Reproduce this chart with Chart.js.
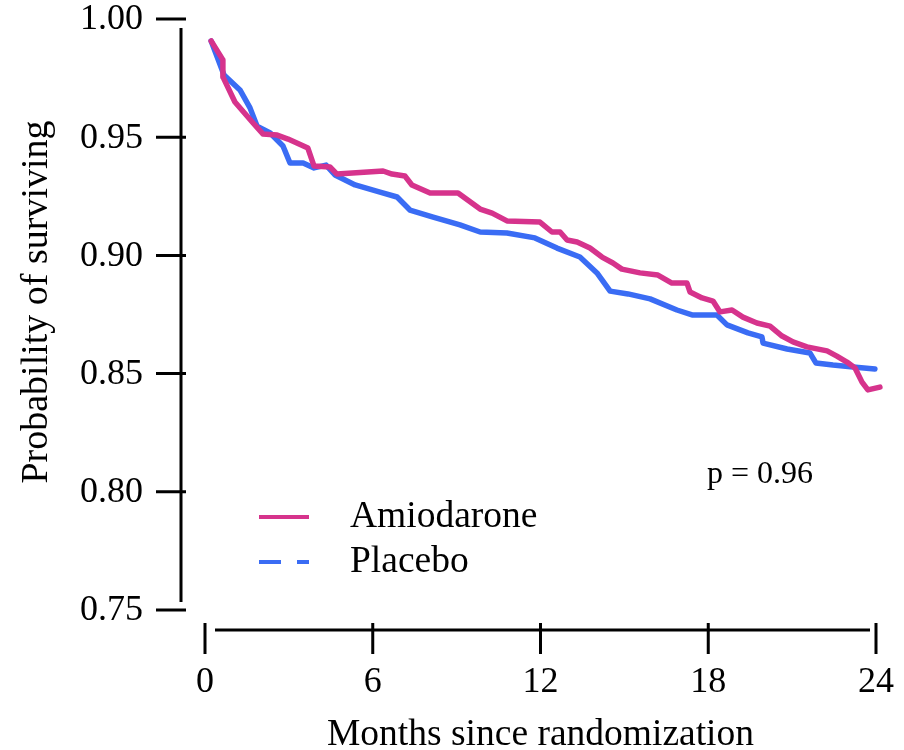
<!DOCTYPE html>
<html>
<head>
<meta charset="utf-8">
<script src="https://cdn.jsdelivr.net/npm/chart.js@4"></script>
<style>
  html, body { margin: 0; padding: 0; background: #fff; }
  #wrap { width: 904px; height: 750px; }
</style>
</head>
<body>
<div id="wrap"><canvas id="survChart" width="904" height="750"></canvas></div>
<script>
// Kaplan-Meier curves (months, probability)
const amioMonths = [0.22, 0.64, 0.64, 1.07, 1.72, 2.07, 2.58, 2.97, 3.68, 3.90, 4.47, 4.72, 6.37, 6.69, 7.15, 7.40, 8.05, 9.05, 9.84, 10.27, 10.80, 11.98, 12.41, 12.70, 12.95, 13.31, 13.77, 14.20, 14.59, 14.91, 15.56, 16.20, 16.70, 17.24, 17.35, 17.78, 18.17, 18.42, 18.85, 19.24, 19.74, 20.21, 20.64, 21.03, 21.53, 22.25, 22.60, 22.96, 23.25, 23.50, 23.71, 24.14];
const amioSurv = [0.9907, 0.9827, 0.9755, 0.9649, 0.9560, 0.9514, 0.9509, 0.9492, 0.9454, 0.9378, 0.9374, 0.9344, 0.9357, 0.9344, 0.9336, 0.9298, 0.9264, 0.9264, 0.9196, 0.9179, 0.9146, 0.9141, 0.9099, 0.9099, 0.9065, 0.9057, 0.9031, 0.8993, 0.8968, 0.8942, 0.8926, 0.8917, 0.8883, 0.8883, 0.8845, 0.8820, 0.8807, 0.8761, 0.8769, 0.8739, 0.8714, 0.8701, 0.8659, 0.8634, 0.8613, 0.8596, 0.8574, 0.8549, 0.8524, 0.8464, 0.8431, 0.8443];

const placMonths = [0.22, 0.68, 1.25, 1.61, 1.86, 2.33, 2.79, 3.04, 3.51, 3.90, 4.33, 4.65, 5.37, 6.26, 6.87, 7.33, 8.16, 9.12, 9.84, 10.80, 11.80, 12.59, 13.41, 14.02, 14.49, 15.13, 15.92, 16.88, 17.42, 18.31, 18.67, 19.42, 19.92, 19.96, 20.82, 21.64, 21.85, 22.46, 23.18, 23.96];
const placSurv = [0.9907, 0.9763, 0.9700, 0.9624, 0.9547, 0.9518, 0.9463, 0.9391, 0.9391, 0.9370, 0.9382, 0.9340, 0.9298, 0.9268, 0.9247, 0.9192, 0.9162, 0.9129, 0.9099, 0.9095, 0.9074, 0.9031, 0.8993, 0.8926, 0.8849, 0.8837, 0.8816, 0.8769, 0.8748, 0.8748, 0.8706, 0.8672, 0.8655, 0.8629, 0.8604, 0.8587, 0.8545, 0.8536, 0.8528, 0.8519];

const xTicks = [0, 6, 12, 18, 24];
const yTicks = [0.75, 0.80, 0.85, 0.90, 0.95, 1.00];

const FONT = "'Liberation Serif', 'Times New Roman', serif";
const PINK = '#d6338c';
const BLUE = '#3a6cf4';

function toPoints(xs, ys) {
  return xs.map((m, i) => ({ x: m, y: ys[i] }));
}

// the offset axis lines, ticks, labels, titles, legend and p value are drawn here,
// positioned through the chart's own x / y scales
const decorPlugin = {
  id: 'decor',
  afterDraw(chart) {
    const { ctx, chartArea: a, scales } = chart;
    const sx = scales.x, sy = scales.y;
    ctx.save();
    ctx.strokeStyle = '#000';
    ctx.lineWidth = 3;
    ctx.lineCap = 'butt';

    // y axis
    const ax = a.left - 24;
    ctx.beginPath();
    ctx.moveTo(ax, a.top + 9);
    ctx.lineTo(ax, a.bottom - 8);
    yTicks.forEach(v => {
      const py = sy.getPixelForValue(v);
      ctx.moveTo(ax - 25, py);
      ctx.lineTo(ax + 5, py);
    });
    // x axis
    const ay = a.bottom + 20;
    ctx.moveTo(a.left + 10, ay);
    ctx.lineTo(a.right - 6, ay);
    xTicks.forEach(v => {
      const px = sx.getPixelForValue(v);
      ctx.moveTo(px, ay - 7);
      ctx.lineTo(px, ay + 24);
    });
    ctx.stroke();

    ctx.fillStyle = '#000';
    ctx.font = '36px ' + FONT;

    // tick labels
    ctx.textAlign = 'right';
    ctx.textBaseline = 'middle';
    yTicks.forEach(v => ctx.fillText(v.toFixed(2), 143, sy.getPixelForValue(v) + 1));
    ctx.textAlign = 'center';
    ctx.textBaseline = 'alphabetic';
    xTicks.forEach(v => ctx.fillText(String(v), sx.getPixelForValue(v), 692));

    // axis titles
    ctx.font = '37.5px ' + FONT;
    ctx.fillText('Months since randomization', (a.left + a.right) / 2, 745);
    ctx.save();
    ctx.font = '38px ' + FONT;
    ctx.translate(47, 302);
    ctx.rotate(-Math.PI / 2);
    ctx.fillText('Probability of surviving', 0, 0);
    ctx.restore();

    // legend
    ctx.font = '37.5px ' + FONT;
    ctx.textAlign = 'left';
    const rows = [527, 572];
    chart.data.datasets.forEach((ds, i) => {
      const base = rows[i];
      const ly = base - 10;
      ctx.strokeStyle = ds.borderColor;
      ctx.lineWidth = 4;
      ctx.setLineDash(ds.legendDash || []);
      ctx.beginPath();
      ctx.moveTo(259, ly);
      ctx.lineTo(309, ly);
      ctx.stroke();
      ctx.setLineDash([]);
      ctx.fillText(ds.label, 350, base);
    });

    ctx.font = '32px ' + FONT;
    ctx.fillText('p = 0.96', 707, 483);
    ctx.restore();
  }
};

const ctx = document.getElementById('survChart').getContext('2d');
new Chart(ctx, {
  type: 'line',
  data: {
    datasets: [
      {
        label: 'Amiodarone',
        data: toPoints(amioMonths, amioSurv),
        borderColor: PINK,
        legendDash: [],
        borderWidth: 5.5,
        pointRadius: 0,
        tension: 0,
        fill: false,
        clip: false,
        borderCapStyle: 'round',
        borderJoinStyle: 'round'
      },
      {
        label: 'Placebo',
        data: toPoints(placMonths, placSurv),
        borderColor: BLUE,
        legendDash: [22, 16],
        borderWidth: 5.5,
        pointRadius: 0,
        tension: 0,
        fill: false,
        clip: false,
        borderCapStyle: 'round',
        borderJoinStyle: 'round'
      }
    ]
  },
  options: {
    responsive: false,
    devicePixelRatio: 1,
    animation: false,
    layout: { padding: { top: 19, right: 28, left: 205, bottom: 140 } },
    plugins: { legend: { display: false }, tooltip: { enabled: false } },
    scales: {
      x: { type: 'linear', display: false, min: 0, max: 24 },
      y: { type: 'linear', display: false, min: 0.75, max: 1.0 }
    }
  },
  plugins: [decorPlugin]
});
</script>
</body>
</html>
